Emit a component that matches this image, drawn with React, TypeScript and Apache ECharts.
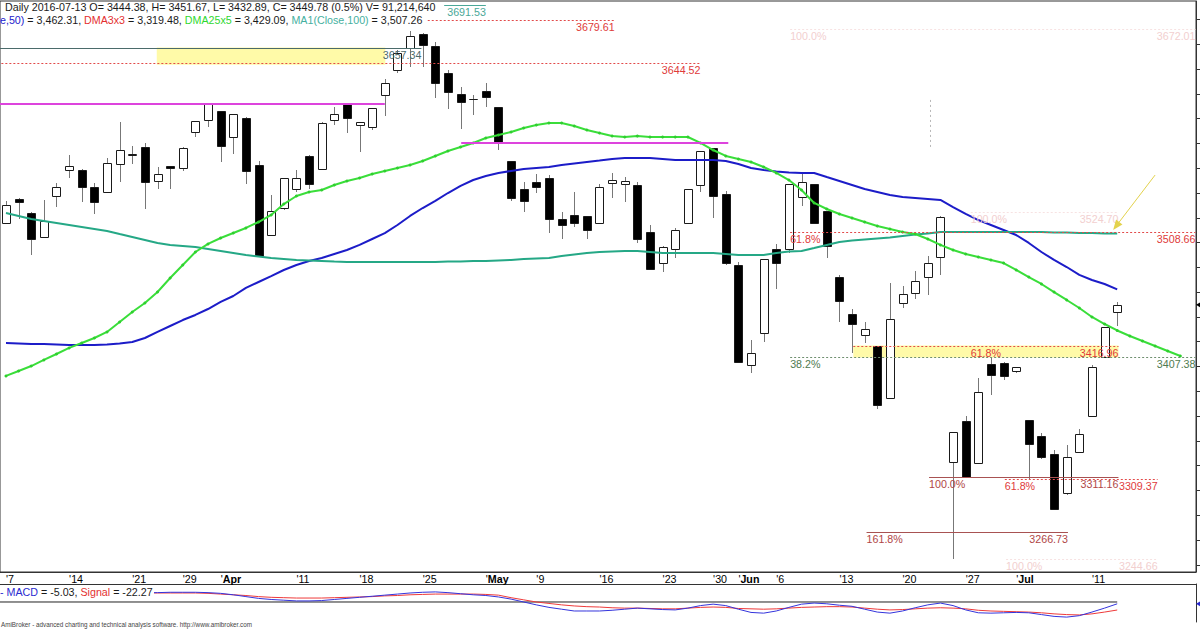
import React, { useEffect, useRef } from "react";
import * as echarts from "echarts";

const FF = "'Liberation Sans', Arial, Helvetica, sans-serif";
const FS = 10.7;

// ---------- data ----------
const tradingDays: Record<string, number[]> = {
  "2016-03": [7, 8, 9, 10, 11, 14, 15, 16, 17, 18, 21, 22, 23, 24, 29, 30, 31],
  "2016-04": [1, 4, 5, 6, 7, 8, 11, 12, 13, 14, 15, 18, 19, 20, 21, 22, 25, 26, 27, 28, 29],
  "2016-05": [3, 4, 5, 6, 9, 10, 11, 12, 13, 16, 17, 18, 19, 20, 23, 24, 25, 27, 30, 31],
  "2016-06": [1, 2, 3, 6, 7, 8, 9, 10, 13, 14, 15, 16, 17, 20, 21, 22, 23, 24, 27, 28, 29, 30],
  "2016-07": [1, 4, 5, 6, 7, 8, 11, 12, 13],
};
const dates: string[] = Object.keys(tradingDays).flatMap((m) =>
  tradingDays[m].map((d) => `${m}-${String(d).padStart(2, "0")}`)
);

// [open, high, low, close]
const ohlc: number[][] = [
  [3515.8, 3533.6, 3515.0, 3530.3], [3535.2, 3535.6, 3519.0, 3532.8], [3523.9, 3524.7, 3490.0, 3502.9],
  [3504.5, 3534.4, 3504.0, 3517.4], [3537.6, 3548.1, 3528.7, 3544.9], [3558.6, 3570.7, 3552.1, 3561.8],
  [3558.6, 3559.0, 3532.8, 3544.9], [3544.9, 3548.1, 3523.1, 3532.8], [3540.8, 3568.3, 3540.0, 3564.2],
  [3563.4, 3597.3, 3548.9, 3574.7], [3570.7, 3577.9, 3563.4, 3571.5], [3577.1, 3580.4, 3527.1, 3548.9],
  [3549.7, 3561.0, 3543.3, 3555.4], [3561.8, 3562.0, 3543.3, 3560.2], [3560.2, 3576.8, 3557.8, 3576.3],
  [3589.2, 3598.5, 3585.2, 3598.1], [3598.9, 3612.0, 3593.3, 3611.8], [3606.2, 3606.5, 3565.0, 3577.9],
  [3585.2, 3604.0, 3571.5, 3603.8], [3600.5, 3601.0, 3547.3, 3557.8], [3562.6, 3565.8, 3488.5, 3489.2],
  [3506.1, 3538.4, 3505.5, 3525.5], [3527.9, 3552.5, 3526.3, 3552.1], [3543.3, 3558.6, 3540.8, 3552.1],
  [3569.9, 3570.7, 3543.3, 3547.3], [3559.4, 3597.0, 3559.0, 3596.5], [3598.9, 3609.4, 3594.9, 3603.8],
  [3611.8, 3612.2, 3588.4, 3600.5], [3594.9, 3597.6, 3573.1, 3597.3], [3593.3, 3609.0, 3590.9, 3608.6],
  [3619.1, 3632.0, 3602.2, 3628.8], [3639.3, 3655.4, 3636.9, 3653.0], [3657.0, 3670.7, 3641.7, 3666.7],
  [3668.3, 3669.1, 3641.7, 3659.4], [3658.6, 3661.9, 3616.7, 3628.8], [3636.9, 3639.3, 3607.8, 3621.5],
  [3619.9, 3625.6, 3591.7, 3613.5], [3615.5, 3619.1, 3603.0, 3615.1], [3622.3, 3628.8, 3609.4, 3617.5],
  [3609.4, 3609.8, 3574.7, 3580.4], [3565.8, 3566.2, 3533.6, 3536.0], [3543.3, 3548.9, 3524.7, 3533.6],
  [3548.9, 3555.4, 3540.0, 3544.9], [3552.1, 3554.5, 3507.7, 3519.0], [3519.0, 3524.7, 3502.9, 3514.2],
  [3522.3, 3540.8, 3512.6, 3515.8], [3521.5, 3521.8, 3502.9, 3510.2], [3515.8, 3547.3, 3515.5, 3544.9],
  [3548.1, 3556.2, 3536.0, 3550.5], [3547.3, 3552.9, 3532.8, 3549.7], [3546.5, 3548.9, 3499.7, 3502.9],
  [3508.6, 3514.2, 3478.3, 3478.7], [3483.5, 3497.3, 3476.3, 3496.5], [3494.8, 3511.8, 3487.6, 3510.2],
  [3515.8, 3543.6, 3515.0, 3543.3], [3546.5, 3574.3, 3540.8, 3573.9], [3576.3, 3576.6, 3519.9, 3537.6],
  [3539.2, 3541.6, 3481.9, 3483.5], [3481.9, 3484.3, 3403.3, 3403.7], [3401.2, 3421.4, 3394.8, 3410.9],
  [3427.1, 3487.1, 3419.8, 3486.8], [3494.8, 3498.9, 3462.6, 3483.5], [3494.8, 3547.6, 3491.6, 3547.3],
  [3536.8, 3556.2, 3529.5, 3548.9], [3547.3, 3547.6, 3515.5, 3515.8], [3525.5, 3525.8, 3487.6, 3497.3],
  [3472.2, 3473.9, 3435.9, 3452.9], [3442.4, 3446.4, 3410.9, 3434.3], [3425.4, 3435.9, 3419.0, 3430.3],
  [3416.6, 3416.9, 3365.7, 3369.0], [3374.6, 3467.4, 3374.3, 3438.4], [3451.3, 3465.0, 3447.2, 3458.5],
  [3459.3, 3477.1, 3454.5, 3469.0], [3472.2, 3489.2, 3457.7, 3483.5], [3488.4, 3521.5, 3473.9, 3520.7],
  [3323.0, 3347.5, 3244.66, 3347.2], [3356.1, 3360.1, 3311.16, 3311.16], [3322.2, 3390.7, 3322.0, 3379.5],
  [3402.0, 3407.7, 3377.0, 3393.2], [3402.9, 3403.6, 3389.1, 3392.4], [3396.4, 3400.0, 3394.8, 3399.6],
  [3356.9, 3357.2, 3309.4, 3337.5], [3343.9, 3346.4, 3325.4, 3327.0], [3329.4, 3332.6, 3284.7, 3285.0],
  [3298.0, 3336.7, 3296.3, 3327.0], [3331.0, 3349.6, 3330.7, 3345.6], [3360.1, 3401.2, 3359.8, 3399.6],
  [3407.7, 3432.2, 3406.9, 3431.9], [3444.38, 3451.67, 3432.89, 3449.78],
];

const ma50: number[] = [
  3419.0, 3418.6, 3418.2, 3418.2, 3417.8, 3417.4, 3417.4, 3417.4, 3417.8, 3418.6,
  3419.8, 3423.0, 3427.9, 3432.7, 3437.5, 3441.6, 3446.4, 3452.1, 3456.9, 3463.4,
  3468.2, 3473.0, 3477.9, 3481.9, 3485.2, 3487.6, 3490.8, 3494.0, 3498.1, 3502.9,
  3507.7, 3514.2, 3521.5, 3527.9, 3533.6, 3540.0, 3545.7, 3550.5, 3553.7, 3556.2,
  3557.8, 3559.4, 3560.2, 3561.0, 3562.6, 3563.8, 3565.0, 3566.2, 3567.5, 3568.3,
  3568.3, 3568.3, 3567.5, 3566.6, 3566.6, 3566.6, 3566.6, 3565.8, 3563.4, 3560.2,
  3558.6, 3557.4, 3556.6, 3556.2, 3556.2, 3552.9, 3549.7, 3546.5, 3543.2, 3540.8,
  3538.4, 3536.8, 3536.0, 3535.2, 3534.4, 3528.7, 3523.1, 3518.2, 3514.2, 3510.2,
  3506.1, 3499.7, 3492.4, 3486.0, 3480.3, 3473.9, 3469.8, 3466.6, 3462.31,
];

// DMA25x5 is displaced 5 bars forward (extends past the last bar)
const dma25x5: number[] = [
  3392.4, 3396.4, 3400.4, 3405.3, 3410.1, 3415.0, 3419.0, 3423.0, 3427.9, 3435.9,
  3444.0, 3451.3, 3460.1, 3471.4, 3481.9, 3492.4, 3498.9, 3503.7, 3507.7, 3511.8,
  3516.6, 3522.3, 3531.1, 3537.6, 3540.8, 3542.4, 3546.5, 3549.7, 3552.1, 3555.4,
  3557.8, 3560.2, 3562.6, 3565.8, 3569.9, 3573.9, 3577.1, 3580.4, 3584.4, 3586.8,
  3589.2, 3592.5, 3594.9, 3596.5, 3596.5, 3594.1, 3590.9, 3588.4, 3586.0, 3585.2,
  3586.0, 3585.2, 3585.2, 3585.2, 3585.2, 3580.4, 3574.7, 3569.9, 3567.5, 3565.0,
  3561.0, 3556.2, 3550.5, 3542.4, 3532.0, 3527.1, 3523.1, 3519.8, 3516.6, 3513.4,
  3511.0, 3508.6, 3506.9, 3502.9, 3498.1, 3494.0, 3490.8, 3488.4, 3486.0, 3483.5,
  3477.9, 3472.2, 3466.6, 3460.1, 3453.7, 3447.2, 3440.0, 3434.3, 3429.09, 3424.6,
  3420.6, 3416.6, 3412.5, 3408.5,
];

const ma100: number[] = [
  3523.9, 3521.5, 3519.0, 3517.4, 3515.8, 3514.2, 3512.6, 3511.0, 3509.4, 3506.9,
  3504.5, 3502.1, 3499.7, 3498.1, 3497.3, 3496.4, 3494.8, 3493.2, 3491.6, 3490.0,
  3488.8, 3487.6, 3486.8, 3486.0, 3485.6, 3485.2, 3484.7, 3484.3, 3484.3, 3484.3,
  3484.3, 3484.3, 3484.3, 3484.3, 3484.3, 3484.7, 3484.7, 3485.2, 3485.2, 3485.6,
  3486.0, 3486.8, 3487.2, 3487.6, 3489.2, 3490.4, 3491.6, 3492.4, 3492.8, 3493.2,
  3493.2, 3492.4, 3491.6, 3491.6, 3491.6, 3491.6, 3491.6, 3490.8, 3490.0, 3490.0,
  3490.0, 3491.6, 3492.8, 3493.2, 3495.6, 3498.1, 3500.5, 3501.7, 3502.5, 3503.3,
  3504.1, 3505.3, 3506.5, 3507.3, 3508.6, 3508.6, 3508.6, 3508.6, 3508.6, 3508.6,
  3508.6, 3508.6, 3508.6, 3508.1, 3508.1, 3507.7, 3507.7, 3507.3, 3507.26,
];

const macd: number[] = [
  26, 26, 26, 26, 26, 26, 26, 26, 26, 26, 26, 26, 26, 27, 27, 27, 26, 24,
  20, 15, 10, 7, 5, 3, 3, 4, 7, 10, 13, 16,
  19, 22, 25, 27, 28, 26, 23, 20, 18, 14, 8, 0,
  -8, -15, -20, -25, -25, -25, -23, -20, -17, -19, -21, -22,
  -17, -10, -6, -10, -20, -29, -31, -25, -15, -6, -3, -5,
  -9, -12, -20, -28, -31, -25, -16, -8, -3, -10, -22, -30,
  -31, -30, -29, -30, -35, -40, -42, -38, -28, -17, -5.03,
];
const signal: number[] = [
  25, 25, 25, 25, 25, 25, 25, 25, 25, 25, 25, 25, 25, 25, 25, 25, 24, 22,
  20, 18, 15, 13, 12, 11, 11, 11, 12, 13, 14, 15,
  17, 18, 20, 21, 22, 22, 22, 22, 21, 19, 12, 6,
  0, -4, -8, -11, -13, -14, -16, -17, -17, -18, -19, -19,
  -17, -15, -14, -15, -18, -19, -20, -19, -17, -15, -14, -13,
  -13, -14, -17, -20, -22, -21, -19, -17, -16, -17, -19, -23,
  -25, -26, -27, -28, -30, -33, -35, -36, -33, -28, -22.27,
];

const xTickIdx: number[] = [0, 5, 10, 14, 17, 23, 28, 33, 38, 42, 47, 52, 56, 58, 61, 66, 71, 76, 80, 86];
const xTickText: string[] = ["'7", "'14", "'21", "'29", "Apr", "'11", "'18", "'25", "May", "'9", "'16", "'23", "'30", "Jun", "'6", "'13", "'20", "'27", "Jul", "'11"];
const monthNames: string[] = ["Apr", "May", "Jun", "Jul"];
const yTicks: number[] = [3240, 3260, 3280, 3300, 3320, 3340, 3360, 3380, 3400, 3420, 3440, 3460, 3480, 3500, 3520, 3540, 3560, 3580, 3600, 3620, 3640, 3660, 3680];

// horizontal study levels (bar-index span, price, labels)
const levels = [
  { v: 3691.53, x0: 34.7, x1: 38.0, kind: "teal", right: "3691.53" },
  { v: 3679.61, x0: 33.4, x1: 48.2, kind: "red", right: "3679.61" },
  { v: 3672.01, x0: 62.1, x1: 94.2, kind: "faint", left: "100.0%", right: "3672.01" },
  { v: 3657.34, x0: -1, x1: 32.9, kind: "slate", right: "3657.34" },
  { v: 3644.52, x0: -1, x1: 55.0, kind: "red", right: "3644.52" },
  { v: 3611.8, x0: -1, x1: 30.0, kind: "magenta" },
  { v: 3580.0, x0: 36.05, x1: 57.2, kind: "magenta" },
  { v: 3524.7, x0: 76.4, x1: 88.1, kind: "faint", left: "100.0%", right: "3524.70" },
  { v: 3508.66, x0: 62.1, x1: 94.2, kind: "red", left: "61.8%", right: "3508.66" },
  { v: 3416.96, x0: 67.1, x1: 88.1, kind: "red", mid: "61.8%", right: "3416.96" },
  { v: 3407.38, x0: 62.1, x1: 94.2, kind: "green", left: "38.2%", right: "3407.38" },
  { v: 3311.16, x0: 73.1, x1: 88.1, kind: "brown", left: "100.0%", right: "3311.16" },
  { v: 3309.37, x0: 79.1, x1: 91.2, kind: "red", left: "61.8%", right: "3309.37" },
  { v: 3266.73, x0: 68.15, x1: 84.1, kind: "brown", left: "161.8%", right: "3266.73" },
  { v: 3244.66, x0: 79.2, x1: 91.2, kind: "faint", left: "100.0%", right: "3244.66" },
];
const boxes = [
  { x0: 11.94, x1: 30.04, top: 3657.34, bottom: 3643.5 },
  { x0: 67.1, x1: 88.1, top: 3416.96, bottom: 3407.38 },
];
const segments = [
  { x0: 91.0, v0: 3554.5, x1: 87.68, v1: 3510.2, kind: "arrow" },
  { x0: 73.2, v0: 3615.1, x1: 73.2, v1: 3577.1, kind: "guide" },
];

// ---------- styles ----------
const levelStyle: Record<string, any> = {
  red: { stroke: "#e24a4a", dash: [2, 2], width: 1, text: "#e03a3a" },
  brown: { stroke: "#a85252", dash: null, width: 1, text: "#b04646" },
  green: { stroke: "#6f8f6f", dash: [2, 2], width: 1, text: "#4f7a4f" },
  faint: { stroke: "#f7e2e2", dash: [2, 2], width: 1, text: "#f2cfcf" },
  teal: { stroke: "#4aa898", dash: null, width: 1, text: "#4aa898" },
  slate: { stroke: "#4b6b6b", dash: null, width: 1, text: "#4b6b6b" },
  magenta: { stroke: "#dd44dd", dash: null, width: 2, text: "#dd44dd" },
};
const X_MIN = -0.474;
const X_MAX = 94.24;
const font = `${FS}px ${FF}`;

function buildOption(): any {
  const candleData = ohlc.map((r, i) => [i, r[0], r[1], r[2], r[3]]);
  const last = ohlc[ohlc.length - 1];

  const renderCandle = (params: any, api: any) => {
    const i = api.value(0);
    const o = api.value(1), h = api.value(2), l = api.value(3), c = api.value(4);
    const pO = api.coord([i, o]);
    const pC = api.coord([i, c]);
    const pH = api.coord([i, h]);
    const pL = api.coord([i, l]);
    const cx = Math.round(pO[0]);
    const top = Math.round(Math.min(pO[1], pC[1]));
    const bh = Math.round(Math.abs(pO[1] - pC[1]));
    const up = c >= o;
    return {
      type: "group",
      children: [
        { type: "line", shape: { x1: cx + 0.5, y1: Math.round(pH[1]), x2: cx + 0.5, y2: Math.round(pL[1]) }, style: { stroke: "#777", lineWidth: 1 } },
        { type: "rect", shape: { x: cx - 3.5, y: top + 0.5, width: 8, height: bh }, style: { fill: up ? "#fff" : "#000", stroke: "#1a1a1a", lineWidth: 1 } },
      ],
    };
  };

  const renderLevel = (params: any, api: any) => {
    const L: any = levels[params.dataIndex];
    const s = levelStyle[L.kind];
    const a = api.coord([L.x0, L.v]);
    const b = api.coord([L.x1, L.v]);
    const y = Math.round(a[1]) + (s.width === 1 ? 0.5 : 0);
    const children: any[] = [
      { type: "line", shape: { x1: a[0], y1: y, x2: b[0], y2: y }, style: { stroke: s.stroke, lineWidth: s.width, lineDash: s.dash || null } },
    ];
    const txt = (text: string, x: number, align: string) => ({
      type: "text",
      x,
      y: y + 1,
      style: { text, fill: s.text, font, textAlign: align, align, textVerticalAlign: "top", verticalAlign: "top" },
    });
    if (L.left) children.push(txt(L.left, a[0], "left"));
    if (L.mid) children.push(txt(L.mid, (a[0] + b[0]) / 2, "center"));
    if (L.right) children.push(txt(L.right, b[0], "right"));
    return { type: "group", children };
  };

  const renderBox = (params: any, api: any) => {
    const B = boxes[params.dataIndex];
    const a = api.coord([B.x0, B.top]);
    const b = api.coord([B.x1, B.bottom]);
    return { type: "rect", shape: { x: a[0], y: a[1], width: b[0] - a[0], height: b[1] - a[1] }, style: { fill: "#fffaa8", stroke: null } };
  };

  const renderSegment = (params: any, api: any) => {
    const S = segments[params.dataIndex];
    const a = api.coord([S.x0, S.v0]);
    const b = api.coord([S.x1, S.v1]);
    if (S.kind === "guide") {
      const x = Math.round(a[0]) + 0.5;
      return { type: "line", shape: { x1: x, y1: a[1], x2: x, y2: b[1] }, style: { stroke: "#b8b8b8", lineWidth: 1, lineDash: [2, 3] } };
    }
    const dx = b[0] - a[0], dy = b[1] - a[1];
    const len = Math.sqrt(dx * dx + dy * dy) || 1;
    const ux = dx / len, uy = dy / len;
    const hl = 10, hw = 4;
    const bx = b[0] - ux * hl, by = b[1] - uy * hl;
    return {
      type: "group",
      children: [
        { type: "line", shape: { x1: a[0], y1: a[1], x2: bx, y2: by }, style: { stroke: "#e3d24c", lineWidth: 1 } },
        { type: "polygon", shape: { points: [[b[0], b[1]], [bx - uy * hw, by + ux * hw], [bx + uy * hw, by - ux * hw]] }, style: { fill: "#e3d24c" } },
      ],
    };
  };

  const axisTxt = { fontSize: FS, fontFamily: FF, color: "#000" };

  return {
    animation: false,
    backgroundColor: "#fff",
    grid: [
      { left: -2, right: 4, top: 1, bottom: 58, show: true, borderColor: "#333", borderWidth: 1, backgroundColor: "transparent" },
      { left: -2, right: 4, top: 584, height: 38 },
    ],
    xAxis: [
      {
        type: "value", gridIndex: 0, min: X_MIN, max: X_MAX,
        axisLine: { show: true, onZero: false, lineStyle: { color: "#333" } },
        axisTick: { show: false },
        splitLine: { show: false },
        axisLabel: {
          show: true,
          customValues: xTickIdx,
          align: "left",
          margin: 1,
          hideOverlap: false,
          showMinLabel: true,
          showMaxLabel: true,
          ...axisTxt,
          formatter: (v: number) => {
            const k = xTickIdx.indexOf(Math.round(v));
            if (k < 0) return "";
            const t = xTickText[k];
            return monthNames.indexOf(t) >= 0 ? `{t|'}{m|${t}}` : `{t|${t}}`;
          },
          rich: { t: { ...axisTxt }, m: { ...axisTxt, fontWeight: "bold" } },
        },
      },
      {
        type: "value", gridIndex: 1, min: X_MIN, max: X_MAX, position: "top",
        axisLine: { show: true, onZero: false, lineStyle: { color: "#333" } },
        axisTick: { show: false }, axisLabel: { show: false }, splitLine: { show: false },
      },
    ],
    yAxis: [
      {
        type: "value", gridIndex: 0, position: "right", min: 3234.2, max: 3694.94,
        axisLine: { show: true, onZero: false, lineStyle: { color: "#333" } },
        axisTick: { show: true, customValues: yTicks, inside: false, length: 4, lineStyle: { color: "#333" } },
        axisLabel: { show: false }, splitLine: { show: false },
      },
      {
        type: "value", gridIndex: 1, position: "right", min: -55.6, max: 50,
        axisLine: { show: true, onZero: false, lineStyle: { color: "#333" } },
        axisTick: { show: false }, axisLabel: { show: false }, splitLine: { show: false },
      },
    ],
    series: [
      { type: "custom", name: "boxes", xAxisIndex: 0, yAxisIndex: 0, z: 1, renderItem: renderBox, data: boxes.map((b) => [b.x0, b.x1, b.top, b.bottom]), encode: { x: [0, 1], y: [2, 3] }, silent: true },
      { type: "custom", name: "price", xAxisIndex: 0, yAxisIndex: 0, z: 2, renderItem: renderCandle, data: candleData, encode: { x: 0, y: [1, 2, 3, 4] }, silent: true },
      {
        type: "line", name: "MA50", xAxisIndex: 0, yAxisIndex: 0, z: 3, data: ma50.map((v, i) => [i, v]),
        showSymbol: false, symbol: "none", lineStyle: { color: "#1c1cc8", width: 2 }, silent: true,
        markPoint: {
          silent: true, label: { show: false },
          data: [{ coord: [X_MAX, last[3]], symbol: "triangle", symbolSize: [7, 6], symbolRotate: 90, symbolOffset: [3, 0], itemStyle: { color: "#000" } }],
        },
      },
      { type: "line", name: "MA100", xAxisIndex: 0, yAxisIndex: 0, z: 3, data: ma100.map((v, i) => [i, v]), showSymbol: false, symbol: "none", lineStyle: { color: "#25a886", width: 2 }, silent: true },
      {
        type: "line", name: "DMA25x5", xAxisIndex: 0, yAxisIndex: 0, z: 3, data: dma25x5.map((v, i) => [i, v]),
        showSymbol: true, symbol: "circle", symbolSize: 3, itemStyle: { color: "#2fcf2f" }, lineStyle: { color: "#3ade3a", width: 2 }, silent: true,
      },
      { type: "custom", name: "levels", xAxisIndex: 0, yAxisIndex: 0, z: 4, renderItem: renderLevel, data: levels.map((l) => [l.x0, l.x1, l.v]), encode: { x: [0, 1], y: 2 }, silent: true },
      { type: "custom", name: "segments", xAxisIndex: 0, yAxisIndex: 0, z: 5, renderItem: renderSegment, data: segments.map((s) => [s.x0, s.x1, s.v0, s.v1]), encode: { x: [0, 1], y: [2, 3] }, silent: true },
      { type: "line", name: "zero", xAxisIndex: 1, yAxisIndex: 1, z: 2, data: [[-1, 0], [ohlc.length - 1, 0]], symbol: "none", lineStyle: { color: "#222", width: 1 }, silent: true },
      { type: "line", name: "Signal", xAxisIndex: 1, yAxisIndex: 1, z: 3, data: signal.map((v, i) => [i, v]), symbol: "none", lineStyle: { color: "#ee3a3a", width: 1 }, silent: true },
      {
        type: "line", name: "MACD", xAxisIndex: 1, yAxisIndex: 1, z: 4, data: macd.map((v, i) => [i, v]), symbol: "none", lineStyle: { color: "#3434dc", width: 1 }, silent: true,
        markPoint: {
          silent: true, label: { show: false },
          data: [{ coord: [X_MAX, macd[macd.length - 1]], symbol: "triangle", symbolSize: [7, 6], symbolRotate: 90, symbolOffset: [3, 0], itemStyle: { color: "#2a2ad0" } }],
        },
      },
    ],
    graphic: [
      {
        type: "text", x: 5, y: 7, z: 100,
        style: {
          text: `Daily ${dates[dates.length - 1]} O= ${last[0].toFixed(2)}, H= ${last[1].toFixed(2)}, L= ${last[2].toFixed(2)}, C= ${last[3].toFixed(2)} (0.5%) V= 91,214,640`,
          font, fill: "#1a1a1a", textVerticalAlign: "middle", verticalAlign: "middle",
        },
      },
      {
        type: "text", x: 0, y: 20, z: 100,
        style: {
          text: "{b|e,50)}{k| = 3,462.31, }{r|DMA3x3}{k| = 3,319.48, }{g|DMA25x5}{k| = 3,429.09, }{t|MA1(Close,100)}{k| = 3,507.26}",
          font, fill: "#1a1a1a", textVerticalAlign: "middle", verticalAlign: "middle",
          rich: {
            b: { fill: "#2222cc", font }, k: { fill: "#1a1a1a", font }, r: { fill: "#e43030", font },
            g: { fill: "#2fd82f", font }, t: { fill: "#45b0a0", font },
          },
        },
      },
      { type: "rect", z: 99, shape: { x: 0, y: 585, width: 154, height: 14 }, style: { fill: "#fff" } },
      {
        type: "text", x: 0, y: 592, z: 100,
        style: {
          text: "{b|- MACD}{k| = -5.03, }{r|Signal}{k| = -22.27}",
          font, fill: "#1a1a1a", textVerticalAlign: "middle", verticalAlign: "middle",
          rich: { b: { fill: "#2a2ad0", font }, k: { fill: "#1a1a1a", font }, r: { fill: "#e43030", font } },
        },
      },
      {
        type: "text", x: 1, y: 624, z: 100,
        style: {
          text: "AmiBroker - advanced charting and technical analysis software. http://www.amibroker.com",
          font: `6.3px ${FF}`, fill: "#444", textVerticalAlign: "middle", verticalAlign: "middle",
        },
      },
    ],
  };
}

export default function App() {
  const ref = useRef<HTMLDivElement>(null);
  useEffect(() => {
    if (!ref.current) return;
    const chart = echarts.init(ref.current, undefined, { renderer: "svg" });
    chart.setOption(buildOption());
    return () => chart.dispose();
  }, []);
  return (
    <div
      ref={ref}
      style={{ position: "fixed", left: 0, top: 0, width: 1200, height: 630, background: "#fff" }}
    />
  );
}
